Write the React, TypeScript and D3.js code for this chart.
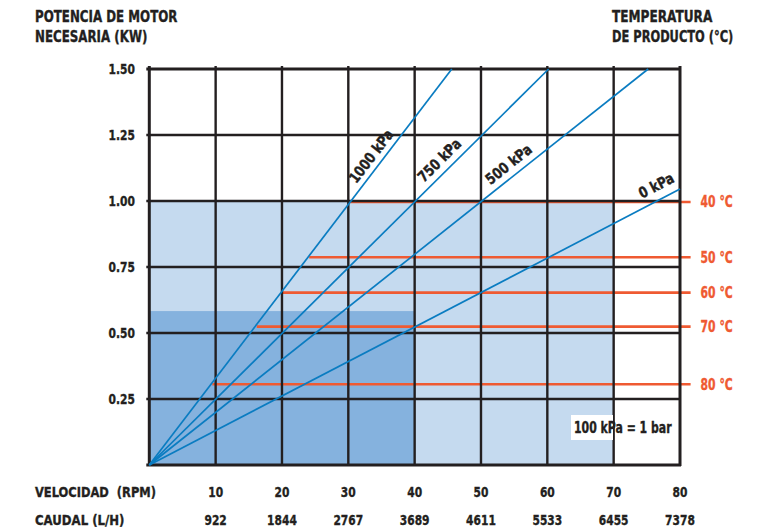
import React from 'react';
import * as d3 from 'd3';

// values
const rpmTicks = [10, 20, 30, 40, 50, 60, 70, 80];
const caudalLabels = ['922', '1844', '2767', '3689', '4611', '5533', '6455', '7378'];
const kwTicks = [0.25, 0.5, 0.75, 1.0, 1.25, 1.5];

const pressureNames = ['1000 kPa', '750 kPa', '500 kPa', '0 kPa'];
const pressureEndRpm = [45.6, 60.2, 75.2, 80];
const pressureEndKw = [1.5, 1.5, 1.5, 1.045];
const pressureLabelRpm = [31.9, 42.1, 52.1, 74.9];
const pressureLabelGap = [6, 7, 7, 9];

const tempNames = ['40 °C', '50 °C', '60 °C', '70 °C', '80 °C'];
const tempKw = [0.996, 0.787, 0.653, 0.524, 0.306];
const tempStartRpm = [30.2, 24.1, 20.1, 16.2, 9.5];
const tempEndRpm = 81.6;

const lightZone = { rpm: 70, kw: 1.0 };
const darkZone = { rpm: 40, kw: 0.583 };

const W = 766;
const H = 532;
const font = "'DejaVu Sans Condensed', 'Liberation Sans Narrow', sans-serif";
const ink = '#231f20';
const orange = '#ef5a32';
const blue = '#0a7cc1';

// condensed bold text: the reference uses a narrow heavy grotesque, so squeeze horizontally
function T(props: {
  x: number; y: number; size: number; sx: number; children: React.ReactNode;
  anchor?: string; fill?: string; rotate?: number; dy?: string | number;
}) {
  const { x, y, size, sx, children, anchor = 'start', fill = ink, rotate = 0, dy } = props;
  return (
    <text transform={`translate(${x},${y}) rotate(${rotate}) scale(${sx},1)`} dy={dy}
      textAnchor={anchor} fill={fill} stroke={fill} strokeWidth={0.35} fontSize={size}
      style={{ whiteSpace: 'pre' }}>
      {children}
    </text>
  );
}

export default function App() {
  const x = d3.scaleLinear().domain([0, 80]).range([149.3, 680]);
  const y = d3.scaleLinear().domain([0, 1.5]).range([465, 69]);
  const line = d3.line<[number, number]>().x(d => x(d[0])).y(d => y(d[1]));

  return (
    <svg width={W} height={H} style={{ position: 'absolute', left: 0, top: 0, background: '#fff' }}
      fontFamily={font} fontWeight="bold">
      {/* operating zones */}
      <rect x={x(0)} y={y(lightZone.kw)} width={x(lightZone.rpm) - x(0)} height={y(0) - y(lightZone.kw)} fill="#c5daef" />
      <rect x={x(0)} y={y(darkZone.kw)} width={x(darkZone.rpm) - x(0)} height={y(0) - y(darkZone.kw)} fill="#85b2de" />

      {/* temperature limits */}
      {tempNames.map((t, i) => (
        <g key={t}>
          <line x1={x(tempStartRpm[i])} x2={x(tempEndRpm)} y1={y(tempKw[i])} y2={y(tempKw[i])}
            stroke={orange} strokeWidth={2.6} />
          <T x={x(tempEndRpm) + 10} y={y(tempKw[i])} dy="0.36em" fill={orange} size={15} sx={0.8}>{t}</T>
        </g>
      ))}

      {/* grid */}
      {[0, ...kwTicks].map(v => (
        <line key={'h' + v} x1={x(0) - 3} x2={x(80) + 1} y1={y(v)} y2={y(v)} stroke={ink}
          strokeWidth={v === 1.5 || v === 0 ? 3.2 : 2.4} />
      ))}
      {[0, ...rpmTicks].map(v => (
        <line key={'v' + v} x1={x(v)} x2={x(v)} y1={y(1.5) - 3} y2={y(0) + 1} stroke={ink}
          strokeWidth={v === 0 || v === 80 ? 3 : 2.4} />
      ))}

      {/* pressure lines */}
      {pressureNames.map((p, i) => {
        const x0 = x(0), y0 = y(0);
        const ang = Math.atan2(y(pressureEndKw[i]) - y0, x(pressureEndRpm[i]) - x0) * 180 / Math.PI;
        const lr = pressureLabelRpm[i];
        const lk = pressureEndKw[i] * lr / pressureEndRpm[i];
        return (
          <g key={p}>
            <path d={line([[0, 0], [pressureEndRpm[i], pressureEndKw[i]]]) || ''} fill="none" stroke={blue} strokeWidth={1.7} />
            <T x={x(lr)} y={y(lk)} rotate={ang} dy={-pressureLabelGap[i]} size={15} sx={0.9}>{p}</T>
          </g>
        );
      })}

      {/* note box */}
      <rect x={571} y={415} width={42} height={25} fill="#fff" />
      <T x={574} y={433} size={15} sx={0.81}>100 kPa = 1 bar</T>

      {/* y axis ticks */}
      {kwTicks.map(v => (
        <T key={'yt' + v} x={135} y={y(v)} dy="0.36em" anchor="end" size={14.5} sx={0.82}>{v.toFixed(2)}</T>
      ))}

      {/* x axis rows */}
      {rpmTicks.map((v, i) => (
        <g key={'xt' + v}>
          <T x={x(v)} y={497} anchor="middle" size={14.5} sx={0.82}>{v}</T>
          <T x={x(v)} y={525} anchor="middle" size={14.5} sx={0.82}>{caudalLabels[i]}</T>
        </g>
      ))}
      <T x={35} y={497} size={14.5} sx={0.88}>VELOCIDAD  (RPM)</T>
      <T x={35} y={525} size={14.5} sx={0.9}>CAUDAL (L/H)</T>

      {/* titles */}
      <T x={35} y={22} size={15.5} sx={0.85}>POTENCIA DE MOTOR</T>
      <T x={35} y={42} size={15.5} sx={0.85}>NECESARIA (KW)</T>
      <T x={612} y={22} size={15.5} sx={0.87}>TEMPERATURA</T>
      <T x={612} y={42} size={15.5} sx={0.82}>DE PRODUCTO (°C)</T>
    </svg>
  );
}
